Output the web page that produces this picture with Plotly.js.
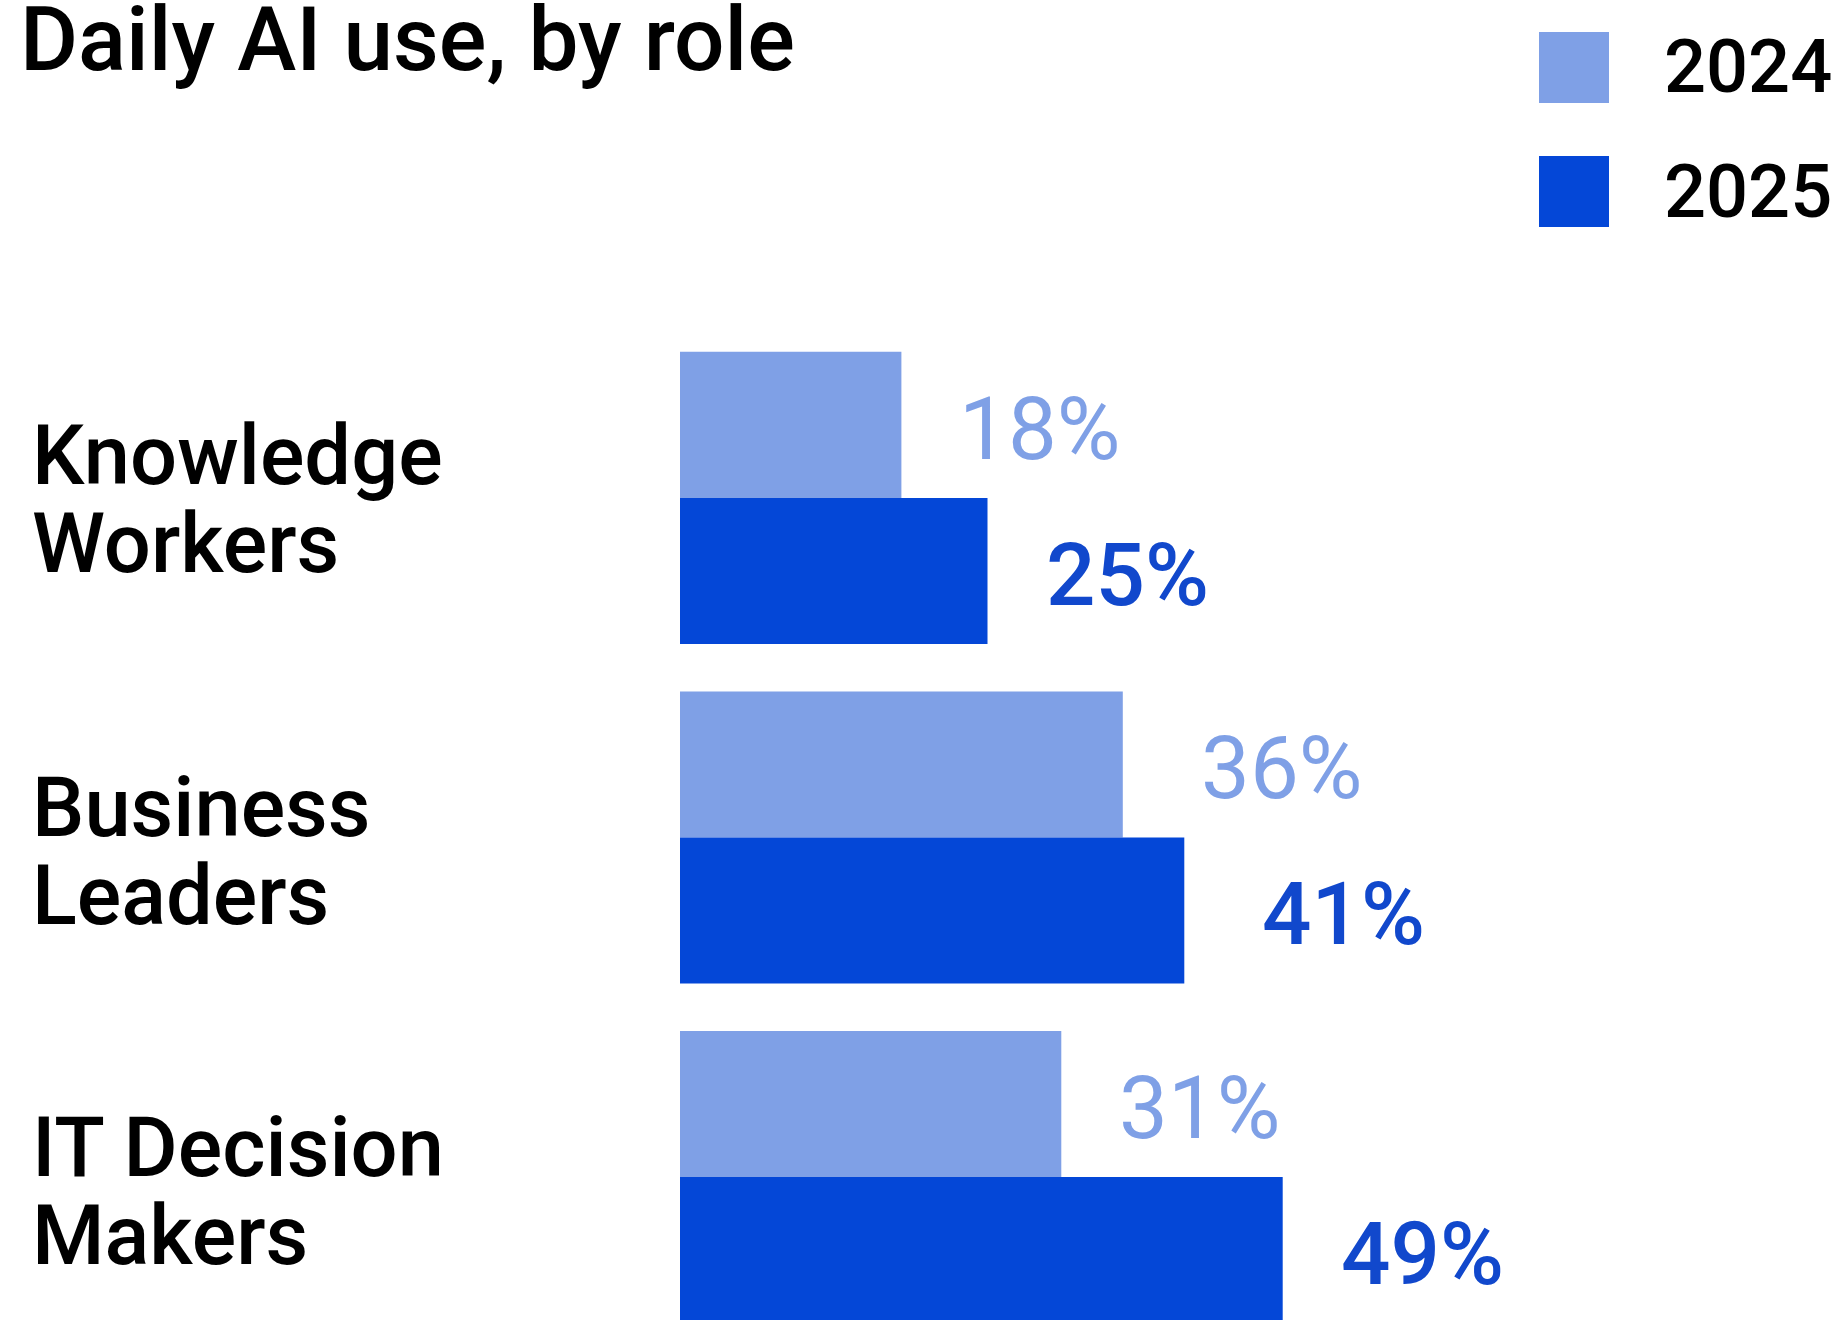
<!DOCTYPE html>
<html>
<head>
<meta charset="utf-8">
<script src="https://cdn.plot.ly/plotly-3.0.1.min.js"></script>
<style>html,body{margin:0;padding:0;background:#fff;}#chart{width:1839px;height:1320px;}</style>
</head>
<body>
<div id="chart"></div>
<script>
// ---- data ----
const categories = ["Knowledge Workers", "Business Leaders", "IT Decision Makers"];
const labelLines = [["Knowledge", "Workers"], ["Business", "Leaders"], ["IT Decision", "Makers"]];
const seriesNames = ["2024", "2025"];
const values2024 = [18, 36, 31];
const values2025 = [25, 41, 49];
const chartTitle = "Daily AI use, by role";

// ---- styles ----
const lightBlue = "#7fa0e6";
const darkBlue = "#0447d7";
const FONT = "Roboto, Liberation Sans, Arial, sans-serif";
const W = 1839, H = 1320;
const mL = 680, mT = 250;
const plotW = W - mL, plotH = H - mT;
const bargap = 0.14;
const half = (1 - bargap) / 4; // center offset of each bar within group
const labelNudge = [12, 0, 0];   // vertical nudge (px) for category labels
const valueNudge = [-4, 16, -4]; // horizontal nudge (px) for value labels

const traces = [
  {type: "bar", orientation: "h", name: seriesNames[0], y: categories, x: values2024,
   marker: {color: lightBlue}, hoverinfo: "skip", showlegend: false},
  {type: "bar", orientation: "h", name: seriesNames[1], y: categories, x: values2025,
   marker: {color: darkBlue}, hoverinfo: "skip", showlegend: false}
];

const annotations = [];
// category labels (left aligned, two lines)
labelLines.forEach((lines, i) => {
  lines.forEach((ln, j) => {
    annotations.push({
      text: ln, xref: "paper", x: (30 - mL) / plotW, xanchor: "left",
      yref: "y", y: i, yanchor: "middle", yshift: (j === 0 ? 30 : -58) + labelNudge[i],
      showarrow: false, font: {family: FONT, size: 83, color: "#000", weight: 500}
    });
  });
});
// value labels
[values2024, values2025].forEach((vals, s) => {
  vals.forEach((v, i) => {
    annotations.push({
      text: v + "%", xref: "x", x: v, xanchor: "left", xshift: 60 + valueNudge[i],
      yref: "y", y: i + (s === 0 ? -half : half), yanchor: "middle", yshift: -4,
      showarrow: false,
      font: {family: FONT, size: 87,
             color: s === 0 ? lightBlue : "#1148cc", weight: s === 0 ? 400 : 500}
    });
  });
});
// legend
const legendColors = [lightBlue, darkBlue];
const legendTopPx = [32, 156];
const shapes = [];
seriesNames.forEach((nm, k) => {
  const top = legendTopPx[k], bot = top + 71;
  shapes.push({type: "rect", xref: "paper", yref: "paper",
    x0: (1539 - mL) / plotW, x1: (1609 - mL) / plotW,
    y0: (H - bot) / plotH, y1: (H - top) / plotH,
    fillcolor: legendColors[k], line: {width: 0}});
  annotations.push({text: nm, xref: "paper", x: (1662 - mL) / plotW, xanchor: "left",
    yref: "paper", y: (H - (top + 35)) / plotH, yanchor: "middle", showarrow: false,
    font: {family: FONT, size: 74, color: "#000", weight: 500}});
});

const layout = {
  width: W, height: H,
  margin: {l: mL, r: 0, t: mT, b: 0, pad: 0},
  paper_bgcolor: "#fff", plot_bgcolor: "#fff",
  title: {text: chartTitle, xref: "container", x: 20 / W, xanchor: "left",
          yref: "container", y: 1 - 39 / H, yanchor: "middle",
          font: {family: FONT, size: 89, color: "#000", weight: 500}},
  barmode: "group", bargap: bargap, bargroupgap: 0,
  xaxis: {range: [0, plotW / 12.3], visible: false, fixedrange: true},
  yaxis: {type: "category", categoryorder: "array", categoryarray: categories,
          range: [2.421, -0.730], visible: false, fixedrange: true},
  annotations: annotations, shapes: shapes, showlegend: false
};

Plotly.newPlot("chart", traces, layout, {staticPlot: true, displayModeBar: false});
</script>
</body>
</html>
